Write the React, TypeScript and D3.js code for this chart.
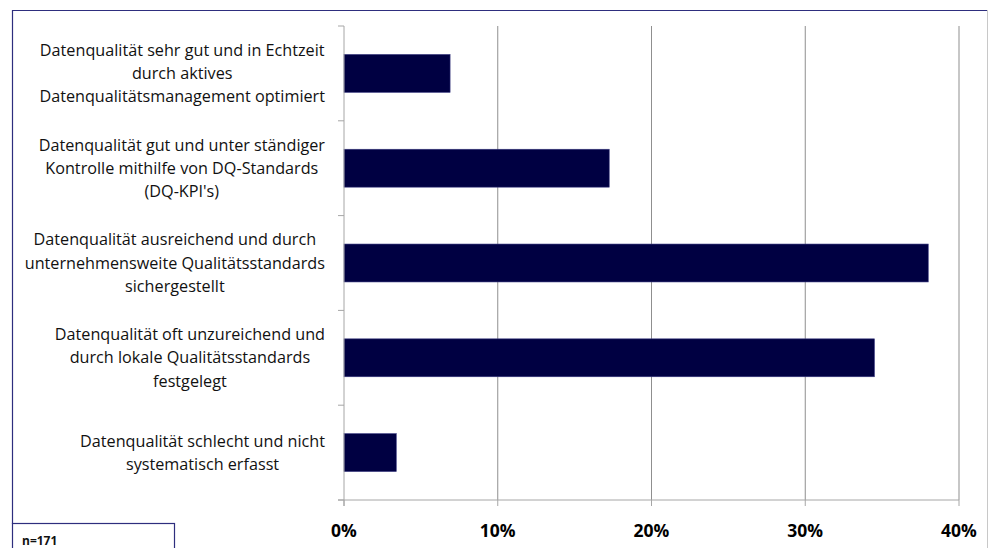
import React from "react";
import * as d3 from "d3";

const categories: string[][] = [
  ["Datenqualität sehr gut und in Echtzeit", "durch aktives", "Datenqualitätsmanagement optimiert"],
  ["Datenqualität gut und unter ständiger", "Kontrolle mithilfe von DQ-Standards", "(DQ-KPI's)"],
  ["Datenqualität ausreichend und durch", "unternehmensweite Qualitätsstandards", "sichergestellt"],
  ["Datenqualität oft unzureichend und", "durch lokale Qualitätsstandards", "festgelegt"],
  ["Datenqualität schlecht und nicht", "systematisch erfasst"],
];
const values: number[] = [0.069, 0.1725, 0.38, 0.345, 0.034];
const xTicks: number[] = [0, 0.1, 0.2, 0.3, 0.4];
const note = "n=171";

const W = 988;
const H = 548;
const FONT = "'Open Sans', 'Noto Sans', sans-serif";
const LABEL_SIZE = 16.2;

let ctx: CanvasRenderingContext2D | null = null;
function measure(s: string): number {
  if (!ctx) {
    const c = document.createElement("canvas");
    ctx = c.getContext("2d");
  }
  if (!ctx) return s.length * 8;
  ctx.font = `${LABEL_SIZE}px 'Open Sans', 'Noto Sans', sans-serif`;
  return ctx.measureText(s).width;
}

export default function App() {
  const x = d3.scaleLinear().domain([0, 0.4]).range([344, 959]);
  const ids = categories.map((_, i) => String(i));
  const y = d3.scaleBand<string>().domain(ids).range([26, 500]).paddingInner(0.6).paddingOuter(0.3);
  const step = y.step();
  const bounds = d3.range(categories.length + 1).map((i) => 26 + i * step);
  const fmt = d3.format(".0%");
  const labelCenter = (lines: string[]) => {
    const maxW = d3.max(lines, (l) => measure(l)) || 0;
    return 325 - maxW / 2;
  };
  return (
    <svg width={W} height={H} style={{ position: "absolute", left: 0, top: 0, background: "#fff" }}>
      <rect x={0} y={0} width={W} height={H} fill="#fff" />
      <line x1={12} y1={10.5} x2={987} y2={10.5} stroke="#2e2e7e" strokeWidth={1.2} />
      <line x1={12.5} y1={10} x2={12.5} y2={524} stroke="#2e2e7e" strokeWidth={1.2} />
      <line x1={987.5} y1={10} x2={987.5} y2={548} stroke="#c8c8c8" strokeWidth={1} />
      {xTicks.slice(1).map((t) => (
        <line key={"g" + t} x1={x(t)} x2={x(t)} y1={26} y2={500} stroke="#8f8f8f" strokeWidth={1} />
      ))}
      {values.map((v, i) => (
        <rect key={"b" + i} x={x(0)} y={y(String(i))!} width={x(v) - x(0)} height={y.bandwidth()}
          fill="#000042" stroke="#3a3a80" strokeWidth={0.6} />
      ))}
      <line x1={x(0)} x2={x(0)} y1={26} y2={506} stroke="#a6a6a6" strokeWidth={1} />
      {bounds.map((b, i) => (
        <line key={"yt" + i} x1={338} x2={x(0)} y1={b} y2={b} stroke="#a6a6a6" strokeWidth={1} />
      ))}
      <line x1={338} x2={x(0.4)} y1={500} y2={500} stroke="#a6a6a6" strokeWidth={1} />
      {xTicks.map((t) => (
        <g key={"xt" + t}>
          <line x1={x(t)} x2={x(t)} y1={500} y2={506} stroke="#a6a6a6" strokeWidth={1} />
          <text x={x(t)} y={537} textAnchor="middle" fontFamily={FONT} fontWeight="bold" fontSize={17.5} fill="#000">
            {fmt(t)}
          </text>
        </g>
      ))}
      {categories.map((lines, i) => {
        const cy = y(String(i))! + y.bandwidth() / 2;
        const lh = 23.3;
        const top = cy - ((lines.length - 1) * lh) / 2;
        const cx = labelCenter(lines);
        return (
          <text key={"c" + i} fontFamily={FONT} fontSize={LABEL_SIZE} fill="#111" textAnchor="middle">
            {lines.map((l, j) => (
              <tspan key={j} x={cx} y={top + j * lh} dy="0.35em">{l}</tspan>
            ))}
          </text>
        );
      })}
      <rect x={12.5} y={523.5} width={162} height={40} fill="#fff" stroke="#2e2e7e" strokeWidth={1.2} />
      <text x={22} y={545} fontFamily={FONT} fontWeight="bold" fontSize={12} fill="#111">{note}</text>
    </svg>
  );
}
